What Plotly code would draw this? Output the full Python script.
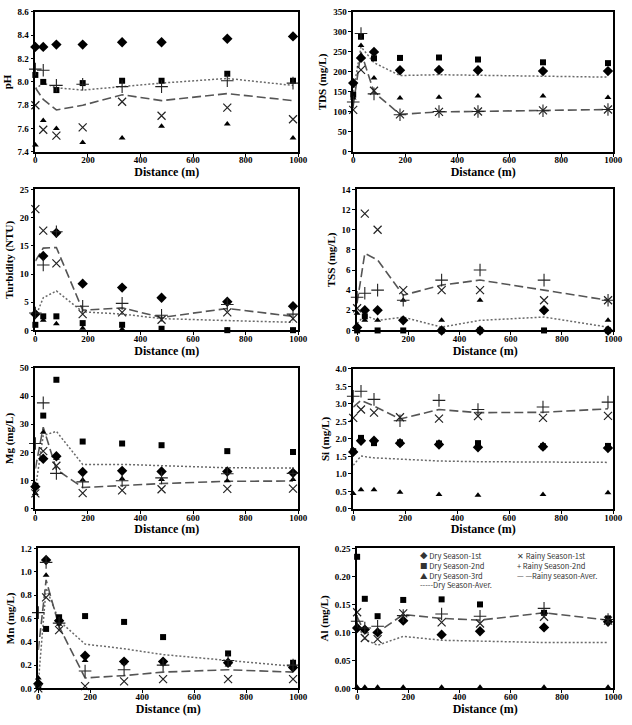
import plotly.graph_objects as go

distance = [0, 30, 80, 180, 330, 480, 730, 980]

# pH
ph_dry1 = [8.30, 8.30, 8.32, 8.32, 8.34, 8.34, 8.37, 8.39]
ph_dry2 = [8.06, 8.00, 7.93, 7.99, 8.01, 8.01, 8.07, 8.01]
ph_dry3 = [7.46, 7.67, 7.60, 7.48, 7.52, 7.62, 7.64, 7.52]
ph_dry_avg = [7.94, 7.99, 7.95, 7.93, 7.96, 7.99, 8.03, 7.97]
ph_rain1 = [7.80, 7.59, 7.54, 7.61, 7.83, 7.71, 7.78, 7.68]
ph_rain2 = [8.11, 8.10, 7.97, 7.98, 7.96, 7.96, 8.01, 7.99]
ph_rain_avg = [7.95, 7.85, 7.76, 7.80, 7.89, 7.84, 7.90, 7.84]

# TDS
tds_dry1 = [172, 235, 250, 204, 205, 204, 202, 202]
tds_dry2 = [143, 288, 234, 235, 236, 231, 224, 222]
tds_dry3 = [135, 266, 185, 135, 137, 140, 140, 136]
tds_dry_avg = [150, 263, 223, 191, 193, 192, 189, 187]
tds_rain1 = [105, 205, 153, 94, 100, 101, 104, 106]
tds_rain2 = [125, 296, 145, 93, 101, 101, 103, 106]
tds_rain_avg = [115, 250, 149, 94, 100, 101, 104, 106]

# Turbidity
tur_dry1 = [2.9, 13.2, 17.3, 8.3, 7.6, 5.8, 5.1, 4.3]
tur_dry2 = [1.0, 2.5, 2.5, 1.3, 1.0, 0.3, 0.05, 0.05]
tur_dry3 = [3.0, 1.8, 1.2, 0.4, 0.2, 0.1, 0.1, 0.05]
tur_dry_avg = [2.3, 5.8, 7.0, 3.3, 2.9, 2.1, 1.75, 1.45]
tur_rain1 = [21.5, 17.7, 11.9, 2.9, 3.2, 1.9, 3.2, 2.1]
tur_rain2 = [3.1, 11.6, 17.5, 4.3, 4.8, 2.7, 4.6, 2.9]
tur_rain_avg = [12.3, 14.6, 14.7, 3.6, 4.0, 2.3, 3.9, 2.5]

# TSS
tss_dry1 = [0.3, 2.0, 2.0, 1.0, 0.0, 0.0, 2.0, 0.0]
tss_dry2 = [0.0, 1.4, 0.0, 0.0, 0.0, 0.0, 0.0, 0.0]
tss_dry3 = [1.7, 1.0, 1.0, 3.0, 1.0, 3.0, 2.0, 1.0]
tss_dry_avg = [0.7, 1.5, 1.0, 1.33, 0.33, 1.0, 1.33, 0.33]
tss_rain1 = [2.2, 11.6, 10.0, 4.0, 4.0, 4.0, 3.0, 3.0]
tss_rain2 = [3.3, 3.7, 4.0, 3.0, 5.0, 6.0, 5.0, 3.0]
tss_rain_avg = [2.75, 7.65, 7.0, 3.5, 4.5, 5.0, 4.0, 3.0]

# Mg
mg_dry1 = [7.9, 17.8, 18.7, 13.1, 13.5, 13.3, 13.3, 12.8]
mg_dry2 = [8.2, 33.1, 45.8, 23.9, 23.2, 22.6, 20.5, 20.2]
mg_dry3 = [5.5, 27.2, 18.0, 10.3, 10.7, 10.4, 10.0, 10.4]
mg_dry_avg = [7.2, 26.0, 27.5, 15.8, 15.8, 15.4, 14.6, 14.5]
mg_rain1 = [5.5, 20.5, 15.3, 5.6, 6.6, 7.0, 7.1, 7.2]
mg_rain2 = [23.2, 37.6, 12.6, 9.6, 10.0, 11.0, 12.5, 12.6]
mg_rain_avg = [14.3, 29.0, 14.0, 7.6, 8.3, 9.0, 9.8, 9.9]

# Si
si_dry1 = [1.63, 1.95, 1.95, 1.88, 1.84, 1.76, 1.78, 1.74]
si_dry2 = [1.65, 2.03, 1.88, 1.90, 1.87, 1.88, 1.79, 1.80]
si_dry3 = [0.44, 0.55, 0.55, 0.48, 0.41, 0.39, 0.41, 0.46]
si_dry_avg = [1.25, 1.51, 1.46, 1.42, 1.37, 1.35, 1.33, 1.33]
si_rain1 = [2.60, 2.84, 2.75, 2.62, 2.58, 2.65, 2.60, 2.66]
si_rain2 = [3.22, 3.36, 3.13, 2.52, 3.10, 2.84, 2.91, 3.05]
si_rain_avg = [2.91, 3.10, 2.94, 2.57, 2.84, 2.75, 2.76, 2.86]

# Mn
mn_dry1 = [0.04, 1.10, 0.58, 0.28, 0.23, 0.23, 0.22, 0.18]
mn_dry2 = [0.02, 0.51, 0.61, 0.62, 0.57, 0.44, 0.30, 0.22]
mn_dry3 = [0.09, 0.97, 0.55, 0.24, 0.22, 0.21, 0.20, 0.18]
mn_dry_avg = [0.05, 0.86, 0.58, 0.38, 0.34, 0.29, 0.24, 0.19]
mn_rain1 = [0.00, 0.78, 0.50, 0.02, 0.06, 0.08, 0.08, 0.08]
mn_rain2 = [0.65, 1.08, 0.56, 0.15, 0.16, 0.20, 0.24, 0.20]
mn_rain_avg = [0.33, 0.93, 0.53, 0.09, 0.11, 0.14, 0.16, 0.14]

# Al
al_dry1 = [0.108, 0.105, 0.100, 0.121, 0.096, 0.102, 0.109, 0.119]
al_dry2 = [0.235, 0.160, 0.129, 0.158, 0.159, 0.150, 0.135, 0.125]
al_dry3 = [0.002, 0.002, 0.002, 0.002, 0.002, 0.002, 0.002, 0.002]
al_dry_avg = [0.115, 0.088, 0.077, 0.093, 0.086, 0.084, 0.082, 0.082]
al_rain1 = [0.136, 0.090, 0.088, 0.134, 0.118, 0.116, 0.128, 0.121]
al_rain2 = [0.120, 0.108, 0.111, 0.130, 0.133, 0.129, 0.143, 0.123]
al_rain_avg = [0.128, 0.099, 0.100, 0.132, 0.125, 0.122, 0.135, 0.122]

y_titles = ["pH", "TDS (mg/L)", "Turbidity (NTU)", "TSS (mg/L)",
            "Mg (mg/L)", "Si (mg/L)", "Mn (mg/L)", "Al (mg/L)"]
y_ranges = [[7.4, 8.6], [0, 350], [0, 25], [0, 14], [0, 50], [0, 4], [0, 1.2], [0, 0.25]]
y_dticks = [0.2, 50, 5, 2, 10, 0.5, 0.2, 0.05]
y_formats = [".1f", "d", "d", "d", "d", ".1f", ".1f", ".2f"]

legend_dry = ["◆ Dry Season-1st", "■ Dry Season-2nd", "▲ Dry Season-3rd", "-----Dry Season-Aver."]
legend_rain = ["✕ Rainy Season-1st", "+ Rainy Season-2nd", "— —Rainy season-Aver."]

panels = [
    (ph_dry1, ph_dry2, ph_dry3, ph_dry_avg, ph_rain1, ph_rain2, ph_rain_avg),
    (tds_dry1, tds_dry2, tds_dry3, tds_dry_avg, tds_rain1, tds_rain2, tds_rain_avg),
    (tur_dry1, tur_dry2, tur_dry3, tur_dry_avg, tur_rain1, tur_rain2, tur_rain_avg),
    (tss_dry1, tss_dry2, tss_dry3, tss_dry_avg, tss_rain1, tss_rain2, tss_rain_avg),
    (mg_dry1, mg_dry2, mg_dry3, mg_dry_avg, mg_rain1, mg_rain2, mg_rain_avg),
    (si_dry1, si_dry2, si_dry3, si_dry_avg, si_rain1, si_rain2, si_rain_avg),
    (mn_dry1, mn_dry2, mn_dry3, mn_dry_avg, mn_rain1, mn_rain2, mn_rain_avg),
    (al_dry1, al_dry2, al_dry3, al_dry_avg, al_rain1, al_rain2, al_rain_avg),
]

W, H = 632, 725
# pixel boxes (left, right, top, bottom)
boxes = [
    (34, 302, 7, 149), (358, 623, 7, 149),
    (34, 302, 187, 330), (362, 623, 187, 330),
    (34, 302, 368, 511), (358, 623, 369, 511),
    (37, 302, 551, 693), (362, 623, 551, 693),
]

fig = go.Figure()
layout = {}
serif = dict(family="Liberation Serif", color="black", weight="bold")

for i, (d1, d2, d3, dav, r1, r2, rav) in enumerate(panels):
    n = i + 1
    xa = "x" if n == 1 else f"x{n}"
    ya = "y" if n == 1 else f"y{n}"
    common = dict(xaxis=xa, yaxis=ya, showlegend=False, cliponaxis=False, hoverinfo="skip")
    fig.add_trace(go.Scatter(x=distance, y=dav, mode="lines",
                             line=dict(color="#6a6a6a", width=1.5, dash="2px,2px"), **common))
    fig.add_trace(go.Scatter(x=distance, y=rav, mode="lines",
                             line=dict(color="#555555", width=1.6, dash="9px,4px"), **common))
    fig.add_trace(go.Scatter(x=distance, y=d1, mode="markers",
                             marker=dict(symbol="diamond", size=8, color="black"), **common))
    fig.add_trace(go.Scatter(x=distance, y=d2, mode="markers",
                             marker=dict(symbol="square", size=6, color="black"), **common))
    fig.add_trace(go.Scatter(x=distance, y=d3, mode="markers",
                             marker=dict(symbol="triangle-up", size=6, color="black"), **common))
    fig.add_trace(go.Scatter(x=distance, y=r1, mode="markers",
                             marker=dict(symbol="x-thin", size=8, color="black",
                                         line=dict(color="#222", width=1.2)), **common))
    fig.add_trace(go.Scatter(x=distance, y=r2, mode="markers",
                             marker=dict(symbol="cross-thin", size=9, color="black",
                                         line=dict(color="#222", width=1.1)), **common))

    l, r, t, b = boxes[i]
    xkey = "xaxis" if n == 1 else f"xaxis{n}"
    ykey = "yaxis" if n == 1 else f"yaxis{n}"
    axis_style = dict(showline=True, linecolor="black", linewidth=1.5, mirror=True,
                      ticks="outside", ticklen=3, tickwidth=1.2, tickcolor="black",
                      showgrid=False, zeroline=False,
                      tickfont=dict(size=9, **serif))
    layout[xkey] = dict(domain=[l / W, r / W], anchor=ya, range=[0, 1000], dtick=200,
                        ticklabelstandoff=-4,
                        title=dict(text="Distance (m)", font=dict(size=12, **serif), standoff=0),
                        **axis_style)
    layout[ykey] = dict(domain=[1 - b / H, 1 - t / H], anchor=xa, range=y_ranges[i],
                        dtick=y_dticks[i], tickformat=y_formats[i],
                        title=dict(text=y_titles[i], font=dict(size=11, **serif), standoff=4),
                        **axis_style)

leg_font = dict(family="Noto Sans CJK KR", size=7.5, color="#333")
annotations = [
    dict(text="<br>".join(legend_dry), x=424 / W, y=1 - 551 / H, xref="paper", yref="paper",
         xanchor="left", yanchor="top", align="left", showarrow=False, font=leg_font),
    dict(text="<br>".join(legend_rain), x=523 / W, y=1 - 551 / H, xref="paper", yref="paper",
         xanchor="left", yanchor="top", align="left", showarrow=False, font=leg_font),
]

fig.update_layout(width=W, height=H, margin=dict(l=0, r=0, t=0, b=0),
                  paper_bgcolor="white", plot_bgcolor="white",
                  annotations=annotations, showlegend=False, **layout)

fig.write_html("out.html")
